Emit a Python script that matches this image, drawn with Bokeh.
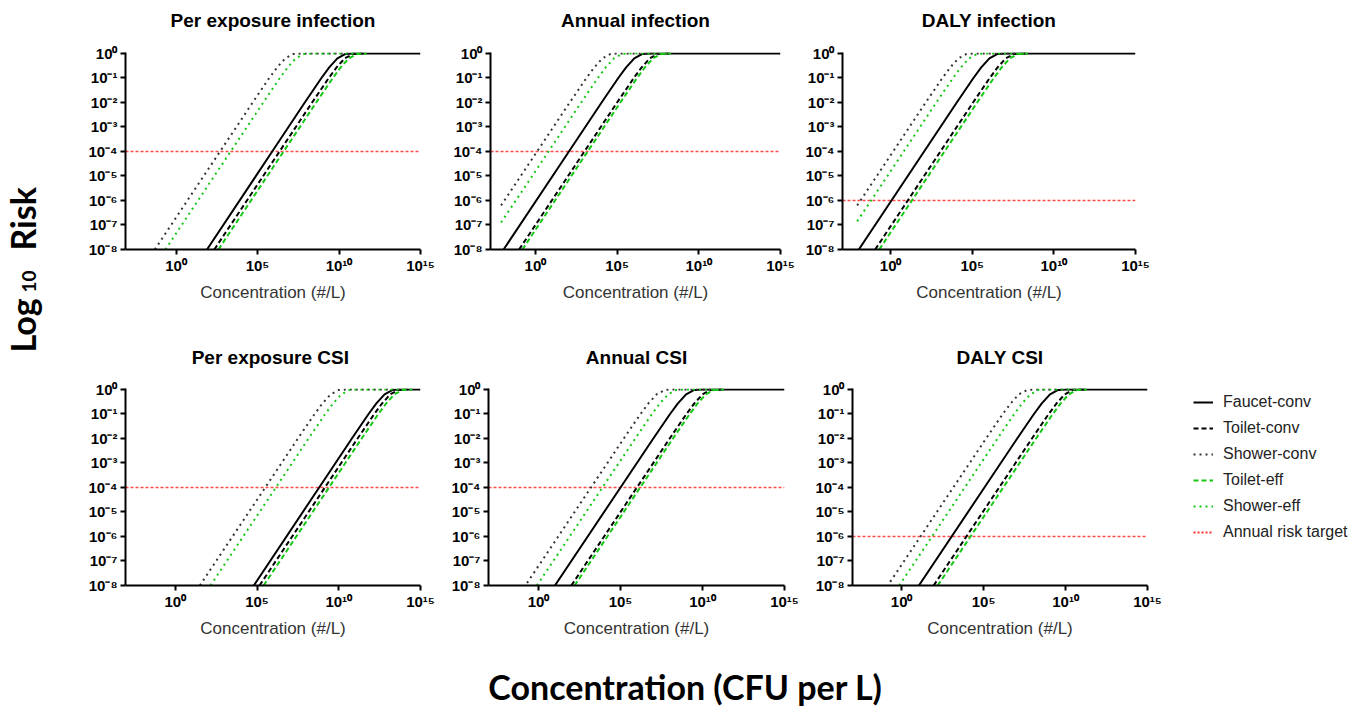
import math
from bokeh.plotting import figure
from bokeh.layouts import row, column
from bokeh.models import (Range1d, FixedTicker, CustomJSTickFormatter,
                          Legend, LegendItem)
from bokeh.embed import file_html
from bokeh.resources import INLINE
from bokeh.core.properties import value

# ---------------- data (log10 values) ----------------
SERIES_NAMES = ["Faucet-conv", "Toilet-conv", "Shower-conv", "Toilet-eff", "Shower-eff"]
TARGET_NAME = "Annual risk target"
PANEL_TITLES = ["Per exposure infection", "Annual infection", "DALY infection",
                "Per exposure  CSI", "Annual CSI", "DALY CSI"]
RISK_TARGETS = [1e-4, 1e-4, 1e-6, 1e-4, 1e-4, 1e-6]
X_TICKS = [1e0, 1e5, 1e10, 1e15]
Y_TICKS = [1e-8, 1e-7, 1e-6, 1e-5, 1e-4, 1e-3, 1e-2, 1e-1, 1e0]
X_AXIS_TITLE = "Concentration (#/L)"
Y_TITLE_PARTS = ["Log", "10", "Risk"]
BOTTOM_TITLE = "Concentration (CFU per L)"

# log10 risk at the read points (common for lines that start at 1e-8)
RISK_Y = [-8, -4, -2, -1.02, -0.57, -0.2, -0.02, 0, 0]

# Per exposure infection
PE_INF_FAUCET = [1.9, 5.9, 7.9, 8.9, 9.4, 9.9, 10.4, 10.9, 15.0]
PE_INF_TOILET = [2.35, 6.35, 8.35, 9.35, 9.85, 10.35, 10.85, 11.35, 11.5]
PE_INF_SHOWER = [-1.3, 2.7, 4.7, 5.7, 6.2, 6.7, 7.2, 7.7, 11.5]
PE_INF_TOILET_EFF = [2.6, 6.6, 8.6, 9.6, 10.1, 10.6, 11.1, 11.6, 11.7]
PE_INF_SHOWER_EFF = [-0.65, 3.35, 5.35, 6.35, 6.85, 7.35, 7.85, 8.35, 11.5]

# Annual infection
AN_INF_FAUCET = [-1.95, 2.05, 4.05, 5.05, 5.55, 6.05, 6.55, 7.05, 15.0]
AN_INF_TOILET = [-1.0, 3.0, 5.0, 6.0, 6.5, 7.0, 7.5, 8.0, 8.2]
AN_INF_SHOWER = [-2.1, 0.1, 2.1, 3.1, 3.6, 4.1, 4.6, 5.1, 8.2]
AN_INF_SHOWER_Y = [-6.2, -4, -2, -1.02, -0.57, -0.2, -0.02, 0, 0]
AN_INF_TOILET_EFF = [-0.8, 3.2, 5.2, 6.2, 6.7, 7.2, 7.7, 8.2, 8.3]
AN_INF_SHOWER_EFF = [-2.1, 0.8, 2.8, 3.8, 4.3, 4.8, 5.3, 5.8, 8.3]
AN_INF_SHOWER_EFF_Y = [-6.9, -4, -2, -1.02, -0.57, -0.2, -0.02, 0, 0]

# DALY infection
DALY_INF_FAUCET = [-1.95, 2.05, 4.05, 5.05, 5.55, 6.05, 6.55, 7.05, 15.0]
DALY_INF_TOILET = [-0.95, 3.05, 5.05, 6.05, 6.55, 7.05, 7.55, 8.05, 8.3]
DALY_INF_SHOWER = [-2.05, 0.15, 2.15, 3.15, 3.65, 4.15, 4.65, 5.15, 8.3]
DALY_INF_SHOWER_Y = [-6.2, -4, -2, -1.02, -0.57, -0.2, -0.02, 0, 0]
DALY_INF_TOILET_EFF = [-0.7, 3.3, 5.3, 6.3, 6.8, 7.3, 7.8, 8.3, 8.4]
DALY_INF_SHOWER_EFF = [-2.05, 0.8, 2.8, 3.8, 4.3, 4.8, 5.3, 5.8, 8.4]
DALY_INF_SHOWER_EFF_Y = [-6.85, -4, -2, -1.02, -0.57, -0.2, -0.02, 0, 0]

# Per exposure CSI
PE_CSI_FAUCET = [4.8, 8.8, 10.8, 11.8, 12.3, 12.8, 13.3, 13.8, 15.0]
PE_CSI_TOILET = [5.15, 9.15, 11.15, 12.15, 12.65, 13.15, 13.65, 14.15, 14.2]
PE_CSI_SHOWER = [1.5, 5.5, 7.5, 8.5, 9.0, 9.5, 10.0, 10.5, 14.0]
PE_CSI_TOILET_EFF = [5.4, 9.4, 11.4, 12.4, 12.9, 13.4, 13.9, 14.4, 14.5]
PE_CSI_SHOWER_EFF = [2.15, 6.15, 8.15, 9.15, 9.65, 10.15, 10.65, 11.15, 14.0]

# Annual CSI
AN_CSI_FAUCET = [1.0, 5.0, 7.0, 8.0, 8.5, 9.0, 9.5, 10.0, 15.0]
AN_CSI_TOILET = [2.0, 6.0, 8.0, 9.0, 9.5, 10.0, 10.5, 11.0, 11.2]
AN_CSI_SHOWER = [-0.7, 3.2, 5.2, 6.2, 6.7, 7.2, 7.7, 8.2, 11.2]
AN_CSI_SHOWER_Y = [-7.9, -4, -2, -1.02, -0.57, -0.2, -0.02, 0, 0]
AN_CSI_TOILET_EFF = [2.2, 6.2, 8.2, 9.2, 9.7, 10.2, 10.7, 11.2, 11.3]
AN_CSI_SHOWER_EFF = [-0.1, 3.9, 5.9, 6.9, 7.4, 7.9, 8.4, 8.9, 11.2]

# DALY CSI
DALY_CSI_FAUCET = [1.05, 5.05, 7.05, 8.05, 8.55, 9.05, 9.55, 10.05, 15.0]
DALY_CSI_TOILET = [1.95, 5.95, 7.95, 8.95, 9.45, 9.95, 10.45, 10.95, 11.2]
DALY_CSI_SHOWER = [-0.7, 3.15, 5.15, 6.15, 6.65, 7.15, 7.65, 8.15, 11.2]
DALY_CSI_SHOWER_Y = [-7.85, -4, -2, -1.02, -0.57, -0.2, -0.02, 0, 0]
DALY_CSI_TOILET_EFF = [2.2, 6.2, 8.2, 9.2, 9.7, 10.2, 10.7, 11.2, 11.3]
DALY_CSI_SHOWER_EFF = [-0.15, 3.85, 5.85, 6.85, 7.35, 7.85, 8.35, 8.85, 11.2]

PANEL_SERIES = [
    [(PE_INF_FAUCET, RISK_Y), (PE_INF_TOILET, RISK_Y), (PE_INF_SHOWER, RISK_Y),
     (PE_INF_TOILET_EFF, RISK_Y), (PE_INF_SHOWER_EFF, RISK_Y)],
    [(AN_INF_FAUCET, RISK_Y), (AN_INF_TOILET, RISK_Y), (AN_INF_SHOWER, AN_INF_SHOWER_Y),
     (AN_INF_TOILET_EFF, RISK_Y), (AN_INF_SHOWER_EFF, AN_INF_SHOWER_EFF_Y)],
    [(DALY_INF_FAUCET, RISK_Y), (DALY_INF_TOILET, RISK_Y), (DALY_INF_SHOWER, DALY_INF_SHOWER_Y),
     (DALY_INF_TOILET_EFF, RISK_Y), (DALY_INF_SHOWER_EFF, DALY_INF_SHOWER_EFF_Y)],
    [(PE_CSI_FAUCET, RISK_Y), (PE_CSI_TOILET, RISK_Y), (PE_CSI_SHOWER, RISK_Y),
     (PE_CSI_TOILET_EFF, RISK_Y), (PE_CSI_SHOWER_EFF, RISK_Y)],
    [(AN_CSI_FAUCET, RISK_Y), (AN_CSI_TOILET, RISK_Y), (AN_CSI_SHOWER, AN_CSI_SHOWER_Y),
     (AN_CSI_TOILET_EFF, RISK_Y), (AN_CSI_SHOWER_EFF, RISK_Y)],
    [(DALY_CSI_FAUCET, RISK_Y), (DALY_CSI_TOILET, RISK_Y), (DALY_CSI_SHOWER, DALY_CSI_SHOWER_Y),
     (DALY_CSI_TOILET_EFF, RISK_Y), (DALY_CSI_SHOWER_EFF, RISK_Y)],
]

# ---------------- styles / layout ----------------
GREEN = "#14c814"
RED = "#ff2a2a"
STYLE = {
    "Faucet-conv": dict(line_color="black", line_width=2, line_dash="solid"),
    "Toilet-conv": dict(line_color="black", line_width=2, line_dash="5 3"),
    "Shower-conv": dict(line_color="#333333", line_width=2, line_dash="2 4"),
    "Toilet-eff": dict(line_color=GREEN, line_width=2, line_dash="5 3"),
    "Shower-eff": dict(line_color=GREEN, line_width=2, line_dash="2 4"),
}
TARGET_STYLE = dict(line_color=RED, line_width=1.5, line_dash="3 2", line_alpha=0.85)

# x-range start (log10) and border geometry of each panel
X_LO = [-3.1, -2.75, -2.95, -3.05, -3.05, -3.0]
GEOM = [  # frame_w, frame_h, left, right, top, bottom
    (295, 197, 67, 25, 12, 81),
    (290, 197, 45, 20, 12, 81),
    (293, 197, 42, 25, 12, 81),
    (295, 197, 67, 25, 12, 55),
    (296, 197, 43, 26, 12, 55),
    (295, 197, 42, 18, 12, 55),
]
HEADER_H = [40, 46]
TITLE_Y = [20, 19]

SUP = CustomJSTickFormatter(code="""
const m = {"-":"\u207b","0":"\u2070","1":"\u00b9","2":"\u00b2","3":"\u00b3",
           "4":"\u2074","5":"\u2075","6":"\u2076","7":"\u2077","8":"\u2078","9":"\u2079"};
const e = Math.round(Math.log10(tick));
return "10" + String(e).split("").map(c => m[c]).join("");
""")


def bare(width, height, **kw):
    f = figure(width=width, height=height, x_range=Range1d(0, width), y_range=Range1d(0, height),
               min_border=0, x_axis_location=None, y_axis_location=None,
               output_backend="svg", toolbar_location=None, **kw)
    f.outline_line_color = None
    f.grid.visible = False
    return f


def style_axis(ax, ticks, standoff):
    ax.ticker = FixedTicker(ticks=ticks)
    ax.formatter = SUP
    ax.minor_tick_line_color = None
    ax.major_tick_in = 0
    ax.major_tick_out = 5
    ax.major_tick_line_width = 2
    ax.axis_line_width = 2
    ax.axis_line_color = "black"
    ax.major_tick_line_color = "black"
    ax.major_label_text_font = "Liberation Sans"
    ax.major_label_text_font_style = "bold"
    ax.major_label_text_font_size = "15px"
    ax.major_label_text_color = "black"
    ax.major_label_standoff = standoff


def make_panel(i):
    fw, fh, bl, br, bt, bb = GEOM[i]
    x_lo = 10 ** X_LO[i]
    p = figure(frame_width=fw, frame_height=fh, min_border_left=bl, min_border_right=br,
               min_border_top=bt, min_border_bottom=bb,
               x_axis_type="log", y_axis_type="log",
               x_range=Range1d(x_lo, X_TICKS[-1]),
               y_range=Range1d(Y_TICKS[0], 10 ** 0.04),
               output_backend="svg", toolbar_location=None)
    p.outline_line_color = None
    p.grid.visible = False
    # annual risk target across the whole axis range
    p.line([x_lo, X_TICKS[-1]], [RISK_TARGETS[i], RISK_TARGETS[i]], **TARGET_STYLE)
    for name, (xs, ys) in zip(SERIES_NAMES, PANEL_SERIES[i]):
        p.line([10 ** v for v in xs], [10 ** v for v in ys], **STYLE[name])
    style_axis(p.xaxis[0], X_TICKS, 2)
    style_axis(p.yaxis[0], Y_TICKS, 3)
    p.xaxis.axis_label = X_AXIS_TITLE
    p.xaxis.axis_label_text_font = "Liberation Sans"
    p.xaxis.axis_label_text_font_style = "normal"
    p.xaxis.axis_label_text_font_size = "17px"
    p.xaxis.axis_label_text_color = "#333333"
    p.xaxis.axis_label_standoff = 6
    return p


def make_header(r):
    idx = range(3 * r, 3 * r + 3)
    widths = [GEOM[i][0] + GEOM[i][2] + GEOM[i][3] for i in idx]
    h = bare(sum(widths), HEADER_H[r])
    xs, off = [], 0
    for i, w in zip(idx, widths):
        xs.append(off + GEOM[i][2] + GEOM[i][0] / 2)
        off += w
    h.text(x=xs, y=[TITLE_Y[r]] * 3, text=[PANEL_TITLES[i] for i in idx],
           text_align="center", text_baseline="middle", text_font=value("Liberation Sans"),
           text_font_style="bold", text_font_size=value("19px"), text_color="black")
    return h


panels = [make_panel(i) for i in range(6)]

# left vertical title (figure spans page y 0..640, x 0..58)
lab = bare(58, 640)
lab.text(x=[22], y=[288], text=[Y_TITLE_PARTS[0]], angle=math.pi / 2, text_align="left",
         text_baseline="middle", text_font=value("Lato"), text_font_style="bold",
         text_font_size=value("34px"), text_color="black")
lab.text(x=[28], y=[348], text=[Y_TITLE_PARTS[1]], angle=math.pi / 2, text_align="left",
         text_baseline="middle", text_font=value("Lato"), text_font_style="bold",
         text_font_size=value("19px"), text_color="black")
lab.text(x=[22], y=[390], text=[Y_TITLE_PARTS[2]], angle=math.pi / 2, text_align="left",
         text_baseline="middle", text_font=value("Lato"), text_font_style="bold",
         text_font_size=value("34px"), text_color="black")

# legend figure (sample renderers sit outside the visible range)
leg = figure(frame_width=165, frame_height=248, min_border_left=28, min_border_top=62,
             min_border_right=0, min_border_bottom=0, x_range=Range1d(0, 1), y_range=Range1d(0, 1),
             x_axis_location=None, y_axis_location=None,
             output_backend="svg", toolbar_location=None)
leg.outline_line_color = None
leg.grid.visible = False
items = []
for name in SERIES_NAMES:
    r = leg.line(x=[5, 6], y=[5, 6], **STYLE[name])
    items.append(LegendItem(label=name, renderers=[r]))
rt = leg.line(x=[5, 6], y=[5, 6], line_color=RED, line_width=2, line_dash="2 2")
items.append(LegendItem(label=TARGET_NAME, renderers=[rt]))
legend = Legend(items=items, location="top_left", border_line_color=None,
                background_fill_alpha=0, margin=0, padding=0, spacing=6,
                label_height=20, glyph_height=20, glyph_width=20, label_standoff=10,
                label_text_font="Liberation Sans", label_text_font_size="16px",
                label_text_color="#222222")
leg.add_layout(legend)

# bottom title (figure spans page y 640..709)
bot = bare(1353, 69)
bot.text(x=[685], y=[23], text=[BOTTOM_TITLE], text_align="center", text_baseline="middle",
         text_font=value("Lato"), text_font_style="bold", text_font_size=value("34px"),
         text_color="black")

top_block = column(make_header(0), row(panels[0], panels[1], panels[2]))
bottom_block = row(column(make_header(1), row(panels[3], panels[4], panels[5])), leg)
layout = column(row(lab, column(top_block, bottom_block)), bot)

open("out.html", "w").write(file_html(layout, INLINE))
